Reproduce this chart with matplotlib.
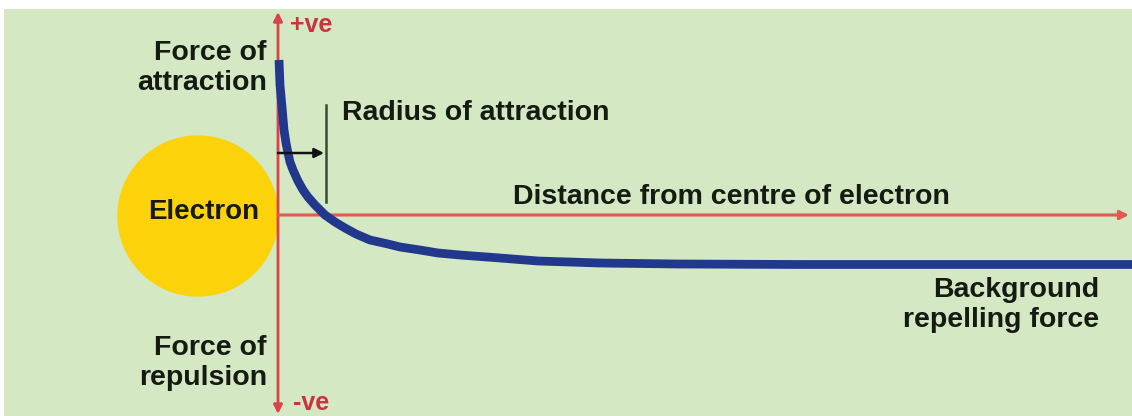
import matplotlib.pyplot as plt
from matplotlib.patches import Circle

plt.rcParams['font.family'] = ['Liberation Sans', 'DejaVu Sans']

# force curve: distance from the electron centre vs. force (arbitrary units)
distance = [1, 2, 4, 6, 8, 10, 12, 15, 20, 25, 30, 37, 42, 47, 57, 67, 78, 92, 110, 122,
            142, 160, 182, 222, 260, 322, 400, 522, 854]
force = [155, 130, 108, 85, 72, 62, 53, 45, 34, 25, 18, 10, 5, 0, -7, -13, -19, -25, -29, -32,
         -35, -38, -40, -43, -46, -48, -49, -49.5, -49.5]

radius_of_attraction = 48
electron_radius = 80

bg = '#d3e8c3'
red = '#d9444a'
blue = '#22388c'
ink = '#151a12'

fig = plt.figure(figsize=(11.32, 4.16), dpi=100, facecolor='white')
ax = fig.add_axes([4 / 1132, 0, 1128 / 1132, 407 / 416])
ax.set_facecolor(bg)
ax.set_xlim(-274, 854)
ax.set_ylim(-201, 206)
ax.axis('off')
ax.add_patch(plt.Rectangle((-274, -201), 1128, 407, color=bg, zorder=0))

# electron
ax.add_patch(Circle((-electron_radius, -1), electron_radius, color='#fcd20a', zorder=1))
ax.text(-74, 3, 'Electron', ha='center', va='center', fontsize=20,
        fontweight='bold', color=ink, zorder=5)

# axes arrows
ax.annotate('', xy=(0, 203), xytext=(0, -199),
            arrowprops=dict(arrowstyle='<|-|>', color=red, lw=2, mutation_scale=13,
                            shrinkA=0, shrinkB=0), zorder=2)
ax.annotate('', xy=(851, 0), xytext=(0, 0),
            arrowprops=dict(arrowstyle='-|>', color='#e05a50', lw=2.2, mutation_scale=13,
                            shrinkA=0, shrinkB=0), zorder=2)

# force curve
ax.plot(distance, force, color=blue, lw=6.3, solid_capstyle='butt',
        solid_joinstyle='round', zorder=3)

# radius of attraction marker
ax.plot([radius_of_attraction, radius_of_attraction], [13, 110], color='#3b4a37', lw=1.8, zorder=4)
ax.annotate('', xy=(radius_of_attraction - 2, 62), xytext=(0, 62),
            arrowprops=dict(arrowstyle='-|>', color='#111111', lw=1.8, mutation_scale=14,
                            shrinkA=0, shrinkB=0), zorder=4)

txt = dict(fontsize=20.5, fontweight='bold', color=ink)
ax.text(64, 102, 'Radius of attraction', ha='left', va='center', **txt)
ax.text(235, 18, 'Distance from centre of electron', ha='left', va='center', **txt)
ax.text(-11, 147, 'Force of\nattraction', ha='right', va='center', linespacing=1.22, **txt)
ax.text(-11, -148, 'Force of\nrepulsion', ha='right', va='center', linespacing=1.22, **txt)
ax.text(821, -90, 'Background\nrepelling force', ha='right', va='center', linespacing=1.22, **txt)

ax.text(12, 190, '+ve', ha='left', va='center', fontsize=18, fontweight='bold', color='#c9343f')
ax.text(15, -188, '-ve', ha='left', va='center', fontsize=18, fontweight='bold', color='#c9343f')

fig.savefig('out.png', dpi=100, facecolor='white')
